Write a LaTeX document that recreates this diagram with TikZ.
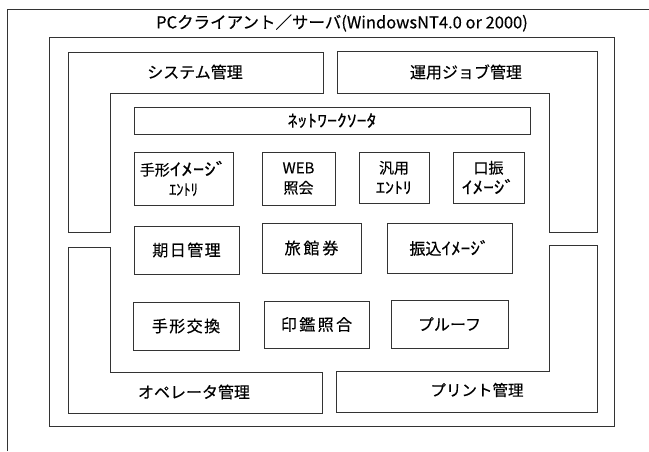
\documentclass[tikz,border=0pt]{standalone}
\usepackage{fontspec}
\setmainfont{Noto Sans CJK JP}[FakeBold=0.35]
\newcommand{\ls}[2]{{\addfontfeature{LetterSpace=#1}#2}}
\newcommand{\hk}[3]{{\fontsize{#1}{20}\selectfont\scalebox{#2}[1]{#3}}}
\begin{document}
\begin{tikzpicture}[x=1pt,y=-1pt,
  frame/.style={draw=black!80,line width=0.8pt},
  box/.style={draw=black!80,line width=0.8pt,inner sep=0pt,align=center,
    font=\fontsize{16}{20}\selectfont},
  twoline/.style={box,font=\fontsize{15}{20}\selectfont},
  lab/.style={inner sep=0pt,font=\fontsize{16}{20}\selectfont}]
\useasboundingbox (0,0) rectangle (649,451);
% outermost frame (cropped by the page)
\draw[frame] (7,451) -- (7,9.5) -- (649,9.5);
\node[lab,font=\fontsize{16.5}{19}\selectfont] (title) at (342,23) {PCクライアント／サーバ(WindowsNT4.0 or 2000)};
% PC frame
\draw[frame] (49,37) rectangle (614,426);
% L-shaped areas
\draw[frame] (68,52) -- (323,52) -- (323,93) -- (110,93) -- (110,232) -- (68,232) -- cycle;
\node[lab] (sys) at (195,72) {システム管理};
\draw[frame] (337,51) -- (597,51) -- (597,232) -- (549,232) -- (549,93) -- (337,93) -- cycle;
\node[lab] (job) at (466,72) {運用ジョブ管理};
\draw[frame] (68,247) -- (110,247) -- (110,372) -- (322,372) -- (322,413) -- (68,413) -- cycle;
\node[lab] (ope) at (194,392) {オペレータ管理};
\draw[frame] (549,245) -- (597,245) -- (597,412) -- (336,412) -- (336,371) -- (549,371) -- cycle;
\node[lab,font=\fontsize{15.5}{19}\selectfont] (prt) at (477,390) {プリント管理};
% inner boxes
\node[box,minimum width=396pt,minimum height=27pt] (sorter) at (332,120.5) {\hk{17}{1.16}{ﾈｯﾄﾜｰｸｿｰﾀ}};
\node[twoline,minimum width=99pt,minimum height=53pt] (tegata) at (183.5,178.5) {手形\hk{17}{1.35}{ｲﾒｰｼﾞ}\\\hk{16}{0.9}{ｴﾝﾄﾘ}};
\node[twoline,minimum width=73pt,minimum height=53pt] (web) at (298.5,178.5) {WEB\\照会};
\node[twoline,minimum width=70pt,minimum height=51pt] (hanyo) at (394,177.5) {汎用\\\hk{16}{1.12}{ｴﾝﾄﾘ}};
\node[twoline,minimum width=71pt,minimum height=51pt] (kofuri) at (488.5,177.5) {口振\\\hk{17}{1.25}{ｲﾒｰｼﾞ}};
\node[box,minimum width=105pt,minimum height=48pt] (kijitsu) at (186.5,250) {\ls{9}{期日管理}};
\node[box,minimum width=99pt,minimum height=50pt] (ryokan) at (311.5,248) {\ls{18}{旅館券}};
\node[box,minimum width=125pt,minimum height=50pt] (furikomi) at (449.5,248) {振込\hk{17}{1.13}{ｲﾒｰｼﾞ}};
\node[box,minimum width=106pt,minimum height=48pt] (kokan) at (186,326) {\ls{9}{手形交換}};
\node[box,minimum width=105pt,minimum height=47pt] (inkan) at (316.5,324.5) {\ls{15}{印鑑照合}};
\node[box,minimum width=117pt,minimum height=48pt] (proof) at (449.5,324) {プルーフ};
\end{tikzpicture}
\end{document}
